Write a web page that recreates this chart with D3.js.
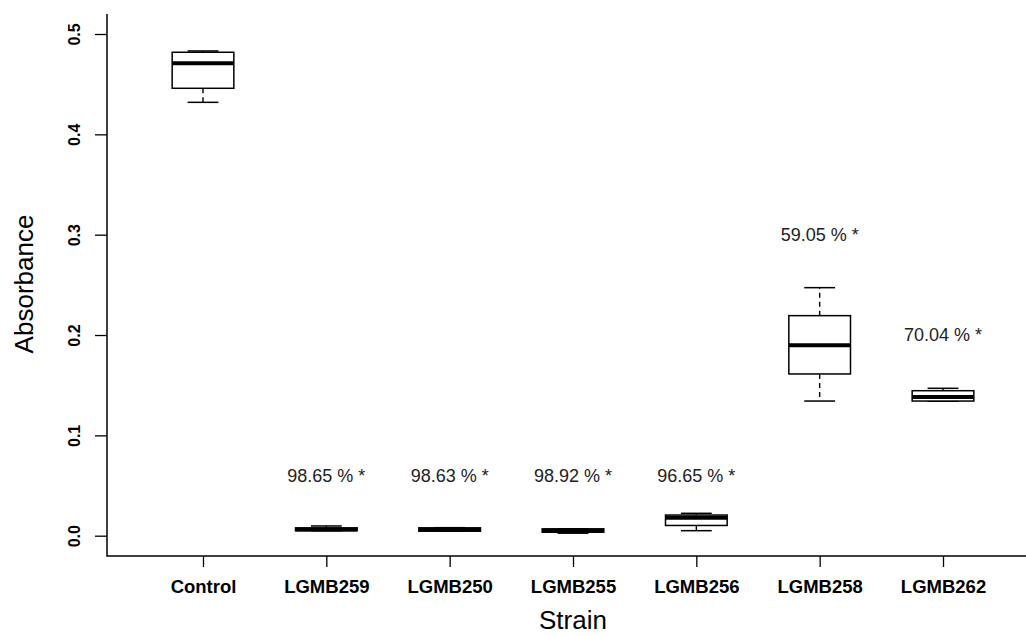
<!DOCTYPE html>
<html><head><meta charset="utf-8">
<script src="https://cdn.jsdelivr.net/npm/d3@7"></script>
<style>body{margin:0;background:#fff}svg{display:block}</style>
</head><body>
<svg id="c" width="1026" height="636"></svg>
<script>
const strains = ["Control","LGMB259","LGMB250","LGMB255","LGMB256","LGMB258","LGMB262"];
const whiskerLow  = [0.4319, 0.0050, 0.0045, 0.0025, 0.0050, 0.1342, 0.1340];
const q1          = [0.4459, 0.0050, 0.0045, 0.0035, 0.0102, 0.1612, 0.1342];
const medians     = [0.4708, 0.0063, 0.0062, 0.0052, 0.0178, 0.1898, 0.1382];
const q3          = [0.4818, 0.0078, 0.0078, 0.0068, 0.0206, 0.2193, 0.1445];
const whiskerHigh = [0.4831, 0.0097, 0.0080, 0.0068, 0.0223, 0.2472, 0.1469];
const labels      = [null, "98.65 % *", "98.63 % *", "98.92 % *", "96.65 % *", "59.05 % *", "70.04 % *"];
const labelY      = [null, 0.06, 0.06, 0.06, 0.06, 0.30, 0.20];
const yTicks = [0.0, 0.1, 0.2, 0.3, 0.4, 0.5];

(function(){
const svg = d3.select("#c");
const mLeft = 107, mTop = 14, mBottom = 556, mRight = 1039;
const y = d3.scaleLinear().domain([-0.02023, 0.51993]).range([mBottom, mTop]);
const x = d3.scalePoint().domain(strains).range([203, 943]);
const step = x.step();
const boxW = step * 0.5;
const capW = boxW / 2;
const font = "Liberation Sans, Arial, Helvetica, sans-serif";

svg.append("path")
  .attr("d", `M${mLeft},${mTop}V${mBottom}H${mRight}`)
  .attr("fill","none").attr("stroke","#000").attr("stroke-width",1.5);

const yAxis = svg.append("g").attr("transform",`translate(${mLeft},0)`)
  .call(d3.axisLeft(y).tickValues(yTicks).tickSize(12).tickFormat(d3.format(".1f")));
yAxis.select(".domain").remove();
yAxis.selectAll(".tick line").attr("stroke","#000").attr("stroke-width",1.3);
yAxis.selectAll(".tick text")
  .attr("x", null).attr("dy", null)
  .attr("transform","translate(-27,0) rotate(-90)")
  .attr("text-anchor","middle")
  .attr("font-family",font).attr("font-size",16).attr("font-weight","bold").attr("fill","#000");

const xAxis = svg.append("g").attr("transform",`translate(0,${mBottom})`)
  .call(d3.axisBottom(x).tickSize(11).tickPadding(16));
xAxis.select(".domain").remove();
xAxis.selectAll(".tick line").attr("stroke","#000").attr("stroke-width",1.3);
xAxis.selectAll(".tick text")
  .attr("dy", null).attr("y", 37)
  .attr("font-family",font).attr("font-size",18.5).attr("font-weight","bold").attr("fill","#000");

svg.append("text").attr("x",573).attr("y",629).attr("text-anchor","middle")
  .attr("font-family",font).attr("font-size",26).attr("fill","#000").text("Strain");
svg.append("text").attr("transform","translate(33,284) rotate(-90)").attr("text-anchor","middle")
  .attr("font-family",font).attr("font-size",26).attr("fill","#000").text("Absorbance");

const g = svg.append("g");
strains.forEach((s,i)=>{
  const cx = x(s);
  const bg = g.append("g");
  bg.append("line").attr("x1",cx).attr("x2",cx).attr("y1",y(q3[i])).attr("y2",y(whiskerHigh[i]))
    .attr("stroke","#000").attr("stroke-width",1.4).attr("stroke-dasharray","5,4");
  bg.append("line").attr("x1",cx).attr("x2",cx).attr("y1",y(q1[i])).attr("y2",y(whiskerLow[i]))
    .attr("stroke","#000").attr("stroke-width",1.4).attr("stroke-dasharray","5,4");
  [whiskerHigh[i], whiskerLow[i]].forEach(v=>{
    bg.append("line").attr("x1",cx-capW/2).attr("x2",cx+capW/2).attr("y1",y(v)).attr("y2",y(v))
      .attr("stroke","#000").attr("stroke-width",1.5);
  });
  bg.append("rect").attr("x",cx-boxW/2).attr("width",boxW)
    .attr("y",y(q3[i])).attr("height",Math.max(0.01,y(q1[i])-y(q3[i])))
    .attr("fill","#fff").attr("stroke","#000").attr("stroke-width",1.5);
  bg.append("line").attr("x1",cx-boxW/2).attr("x2",cx+boxW/2).attr("y1",y(medians[i])).attr("y2",y(medians[i]))
    .attr("stroke","#000").attr("stroke-width",4);
  if (labels[i]) {
    svg.append("text").attr("x",cx).attr("y",y(labelY[i])).attr("dy","0.35em").attr("text-anchor","middle")
      .attr("font-family",font).attr("font-size",18).attr("fill","#222").text(labels[i]);
  }
});
})();
</script>
</body></html>
